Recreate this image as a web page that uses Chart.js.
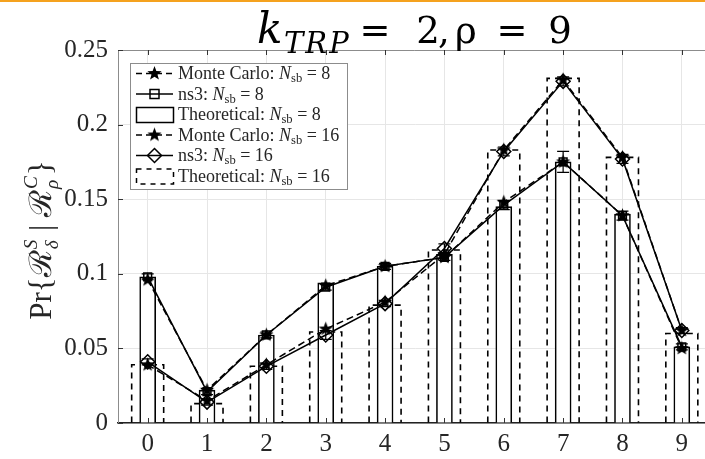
<!DOCTYPE html>
<html>
<head>
<meta charset="utf-8">
<script src="https://cdn.jsdelivr.net/npm/chart.js@4.4.1/dist/chart.umd.min.js"></script>
<style>
  html, body { margin: 0; padding: 0; background: #fff; overflow: hidden; }
  #wrap { width: 720px; height: 459px; }
</style>
</head>
<body>
<div id="wrap"><canvas id="c" width="720" height="459"></canvas></div>
<script>
// --- Datos ---
const categories = ['0', '1', '2', '3', '4', '5', '6', '7', '8', '9'];
const yTickLabels = ['0', '0.05', '0.1', '0.15', '0.2', '0.25'];

const mc8 = [0.096, 0.022, 0.059, 0.092, 0.105, 0.111, 0.148, 0.175, 0.139, 0.050];
const ns3_8 = [0.098, 0.021, 0.059, 0.091, 0.105, 0.111, 0.146, 0.175, 0.139, 0.051];
const ns3_8Err = [0.002, 0.002, 0.002, 0.002, 0.002, 0.002, 0.003, 0.007, 0.003, 0.002];
const theory8 = [0.098, 0.022, 0.059, 0.094, 0.105, 0.113, 0.145, 0.175, 0.140, 0.051];

const mc16 = [0.039, 0.015, 0.039, 0.063, 0.081, 0.113, 0.183, 0.230, 0.178, 0.062];
const ns3_16 = [0.041, 0.014, 0.038, 0.059, 0.080, 0.117, 0.182, 0.229, 0.177, 0.062];
const ns3_16Err = [0.002, 0.002, 0.002, 0.003, 0.002, 0.003, 0.003, 0.003, 0.003, 0.002];
const theory16 = [0.039, 0.013, 0.038, 0.061, 0.079, 0.116, 0.183, 0.231, 0.178, 0.060];

const SERIF = "'Liberation Serif', 'DejaVu Serif', serif";
const TITLE_FONT = "'DejaVu Serif', serif";

// --- Marcador estrella rellena ---
function makeStar(r) {
  const cv = document.createElement('canvas');
  const s = Math.ceil(r * 2 + 2);
  cv.width = s; cv.height = s;
  const g = cv.getContext('2d');
  g.fillStyle = '#000';
  g.beginPath();
  for (let i = 0; i < 10; i++) {
    const rad = i % 2 === 0 ? r : r * 0.42;
    const a = -Math.PI / 2 + i * Math.PI / 5;
    const px = s / 2 + rad * Math.cos(a);
    const py = s / 2 + rad * Math.sin(a);
    if (i === 0) g.moveTo(px, py); else g.lineTo(px, py);
  }
  g.closePath();
  g.fill();
  return cv;
}
const star = makeStar(7.5);

// texto con subindices / cursiva
function drawRich(ctx, x, y, parts, size) {
  let cx = x;
  parts.forEach(p => {
    const fs = p.sub ? size * 0.7 : size;
    ctx.font = (p.italic ? 'italic ' : '') + fs + 'px ' + SERIF;
    ctx.fillText(p.t, cx, y + (p.sub ? size * 0.25 : 0));
    cx += ctx.measureText(p.t).width;
  });
  return cx;
}

function nsbText(label, n) {
  return [
    { t: label + ': ' },
    { t: 'N', italic: true },
    { t: 'sb', sub: true },
    { t: ' = ' + n }
  ];
}

const decorPlugin = {
  id: 'decor',
  afterDatasetDraw(chart, args) {
    const ds = chart.data.datasets[args.index];
    const ctx = chart.ctx;
    if (ds.dashedBar) {
      ctx.save();
      ctx.strokeStyle = '#000';
      ctx.lineWidth = 1.6;
      ctx.setLineDash([6, 5]);
      args.meta.data.forEach(el => {
        const p = el.getProps(['x', 'y', 'base', 'width'], true);
        const l = p.x - p.width / 2, r = p.x + p.width / 2;
        ctx.beginPath();
        ctx.moveTo(l, p.base);
        ctx.lineTo(l, p.y);
        ctx.lineTo(r, p.y);
        ctx.lineTo(r, p.base);
        ctx.stroke();
      });
      ctx.restore();
    }
    if (ds.errors) {
      const ys = chart.scales.y;
      ctx.save();
      ctx.strokeStyle = '#000';
      ctx.lineWidth = 1.2;
      args.meta.data.forEach((el, i) => {
        const v = ds.data[i], e = ds.errors[i];
        const y1 = ys.getPixelForValue(v + e), y2 = ys.getPixelForValue(v - e);
        ctx.beginPath();
        ctx.moveTo(el.x, y1); ctx.lineTo(el.x, y2);
        ctx.moveTo(el.x - 6, y1); ctx.lineTo(el.x + 6, y1);
        ctx.moveTo(el.x - 6, y2); ctx.lineTo(el.x + 6, y2);
        ctx.stroke();
      });
      ctx.restore();
    }
  },
  afterDraw(chart) {
    const ctx = chart.ctx;
    const a = chart.chartArea;
    const xs = chart.scales.x, ys = chart.scales.y;
    ctx.save();

    // linea naranja superior
    ctx.fillStyle = '#f5a21e';
    ctx.fillRect(0, 0, chart.width, 2);

    // marco superior y marcas de escala interiores
    ctx.strokeStyle = '#8c8c8c';
    ctx.lineWidth = 1;
    ctx.beginPath();
    ctx.moveTo(a.left, a.top + 0.5); ctx.lineTo(a.right, a.top + 0.5);
    ctx.stroke();
    ctx.strokeStyle = '#333';
    ctx.beginPath();
    xs.ticks.forEach((t, i) => {
      const x = Math.round(xs.getPixelForTick(i)) + 0.5;
      ctx.moveTo(x, a.bottom); ctx.lineTo(x, a.bottom - 5);
      ctx.moveTo(x, a.top); ctx.lineTo(x, a.top + 5);
    });
    ys.ticks.forEach((t, i) => {
      const y = Math.round(ys.getPixelForTick(i)) + 0.5;
      ctx.moveTo(a.left, y); ctx.lineTo(a.left + 5, y);
    });
    ctx.stroke();

    // titulo
    ctx.fillStyle = '#000';
    ctx.textBaseline = 'alphabetic';
    ctx.textAlign = 'left';
    ctx.font = 'italic 42px ' + TITLE_FONT;
    ctx.fillText('k', 257, 43);
    ctx.font = 'italic 29px ' + TITLE_FONT;
    ctx.letterSpacing = '2px';
    ctx.fillText('TRP', 284, 53);
    ctx.letterSpacing = '0px';
    ctx.font = '37px ' + TITLE_FONT;
    ctx.textAlign = 'center';
    [['=', 375], ['2', 428], [',', 444], ['\u03c1', 466], ['=', 512], ['9', 560]].forEach(([t, x]) => {
      ctx.fillText(t, x, 43);
    });
    ctx.textAlign = 'left';

    // etiqueta eje y
    ctx.save();
    ctx.translate(40, 240);
    ctx.rotate(-Math.PI / 2);
    ctx.fillStyle = '#262626';
    const fs = 31;
    const parts = [
      { t: 'Pr{' }, { t: '\u211b' }, { sup: 'S', sub: '\u03b4' }, { t: ' | ' },
      { t: '\u211b' }, { sup: 'C', sub: '\u03c1' }, { t: '}' }
    ];
    let w = 0;
    parts.forEach(p => {
      if (p.t) { ctx.font = fs + 'px ' + SERIF; w += ctx.measureText(p.t).width; }
      else { ctx.font = 'italic ' + (fs * 0.62) + 'px ' + SERIF; w += Math.max(ctx.measureText(p.sup).width, ctx.measureText(p.sub).width) + 2; }
    });
    let cx = -w / 2;
    parts.forEach(p => {
      if (p.t) {
        ctx.font = fs + 'px ' + SERIF;
        ctx.fillText(p.t, cx, 11);
        cx += ctx.measureText(p.t).width;
      } else {
        ctx.font = 'italic ' + (fs * 0.62) + 'px ' + SERIF;
        ctx.fillText(p.sup, cx + 1, -3);
        ctx.fillText(p.sub, cx + 1, 18);
        cx += Math.max(ctx.measureText(p.sup).width, ctx.measureText(p.sub).width) + 2;
      }
    });
    ctx.restore();

    // leyenda
    const L = { x: 130, y: 63, w: 217, h: 126 };
    ctx.fillStyle = '#fff';
    ctx.fillRect(L.x, L.y, L.w, L.h);
    ctx.strokeStyle = '#8c8c8c';
    ctx.lineWidth = 1;
    ctx.strokeRect(L.x + 0.5, L.y + 0.5, L.w, L.h);

    const rows = [
      { kind: 'line', dash: true, marker: 'star', text: nsbText('Monte Carlo', 8) },
      { kind: 'line', dash: false, marker: 'square', text: nsbText('ns3', 8) },
      { kind: 'box', dash: false, text: nsbText('Theoretical', 8) },
      { kind: 'line', dash: true, marker: 'star', text: nsbText('Monte Carlo', 16) },
      { kind: 'line', dash: false, marker: 'diamond', text: nsbText('ns3', 16) },
      { kind: 'box', dash: true, text: nsbText('Theoretical', 16) }
    ];
    const x0 = 136, x1 = 173;
    rows.forEach((r, i) => {
      const yc = 73.5 + i * 20.5;
      ctx.strokeStyle = '#000';
      ctx.lineWidth = 1.5;
      ctx.setLineDash(r.dash ? (r.kind === 'box' ? [5, 5] : [6, 4]) : []);
      if (r.kind === 'line') {
        ctx.beginPath();
        ctx.moveTo(x0, yc); ctx.lineTo(x1, yc);
        ctx.stroke();
        ctx.setLineDash([]);
        const mx = (x0 + x1) / 2;
        if (r.marker === 'star') ctx.drawImage(star, mx - star.width / 2, yc - star.height / 2);
        if (r.marker === 'square') { ctx.strokeRect(mx - 4.5, yc - 4.5, 9, 9); }
        if (r.marker === 'diamond') {
          ctx.beginPath();
          ctx.moveTo(mx, yc - 7); ctx.lineTo(mx + 7, yc); ctx.lineTo(mx, yc + 7); ctx.lineTo(mx - 7, yc);
          ctx.closePath(); ctx.stroke();
        }
      } else {
        ctx.strokeRect(x0 + 0.5, yc - 7, x1 - x0, 15);
      }
      ctx.setLineDash([]);
      ctx.fillStyle = '#262626';
      ctx.textBaseline = 'middle';
      drawRich(ctx, 178, yc + 1, r.text, 18);
    });
    ctx.restore();
  }
};

new Chart(document.getElementById('c'), {
  type: 'bar',
  data: {
    labels: categories,
    datasets: [
      {
        label: 'Monte Carlo: N_sb = 8', type: 'line', data: mc8, order: 1,
        borderColor: '#000', borderWidth: 1.5, borderDash: [7, 4],
        pointStyle: star, pointRadius: 7, pointHoverRadius: 7
      },
      {
        label: 'ns3: N_sb = 8', type: 'line', data: ns3_8, errors: ns3_8Err, order: 1,
        borderColor: '#000', borderWidth: 1.5,
        pointStyle: 'rect', pointRadius: 5.5, pointBorderWidth: 1.5,
        pointBackgroundColor: 'rgba(0,0,0,0)', pointBorderColor: '#000'
      },
      {
        label: 'Theoretical: N_sb = 8', data: theory8, order: 2, grouped: false,
        barThickness: 16, backgroundColor: '#fff', borderColor: '#000',
        borderWidth: 1.6, borderSkipped: 'bottom'
      },
      {
        label: 'Monte Carlo: N_sb = 16', type: 'line', data: mc16, order: 1,
        borderColor: '#000', borderWidth: 1.5, borderDash: [7, 4],
        pointStyle: star, pointRadius: 7, pointHoverRadius: 7
      },
      {
        label: 'ns3: N_sb = 16', type: 'line', data: ns3_16, errors: ns3_16Err, order: 1,
        borderColor: '#000', borderWidth: 1.5,
        pointStyle: 'rectRot', pointRadius: 7, pointBorderWidth: 1.5,
        pointBackgroundColor: 'rgba(0,0,0,0)', pointBorderColor: '#000'
      },
      {
        label: 'Theoretical: N_sb = 16', data: theory16, order: 3, grouped: false,
        barThickness: 32, backgroundColor: 'rgba(0,0,0,0)', borderWidth: 0,
        dashedBar: true
      }
    ]
  },
  options: {
    responsive: false,
    animation: false,
    events: [],
    layout: { padding: { top: 50, right: 2, left: 0, bottom: 0 } },
    plugins: { legend: { display: false }, title: { display: false }, tooltip: { enabled: false } },
    scales: {
      x: {
        offset: true,
        grid: { color: '#e6e6e6', offset: false, drawTicks: false },
        border: { display: true, color: '#222', width: 1.5 },
        ticks: { color: '#262626', padding: 6, font: { family: SERIF, size: 25 } },
        afterFit: s => { s.height = 36; }
      },
      y: {
        min: 0, max: 0.25,
        grid: { color: '#e6e6e6', drawTicks: false },
        border: { display: true, color: '#8c8c8c', width: 1 },
        ticks: {
          stepSize: 0.05, color: '#262626', padding: 10,
          font: { family: SERIF, size: 25 },
          callback: (v, i) => yTickLabels[i]
        },
        afterFit: s => { s.width = 118; }
      }
    }
  },
  plugins: [decorPlugin]
});
</script>
</body>
</html>
